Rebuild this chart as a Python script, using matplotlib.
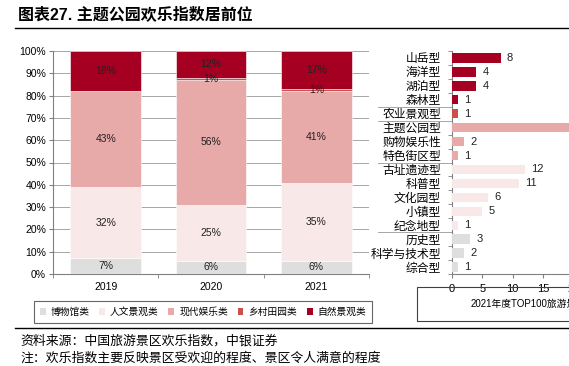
import matplotlib
matplotlib.use("Agg")
import matplotlib.pyplot as plt
import matplotlib.transforms as mtransforms
from matplotlib.patches import Patch, Rectangle
from matplotlib.lines import Line2D
import numpy as np

plt.rcParams['font.family'] = ['Liberation Sans', 'Noto Sans CJK SC']

# ---- data ----
years = ["2019", "2020", "2021"]
series_names = ["博物馆类", "人文景观类", "现代娱乐类", "乡村田园类", "自然景观类"]
museum = [7, 6, 6]
culture = [32, 25, 35]
modern = [43, 56, 41]
rural = [0, 1, 1]
nature = [18, 12, 17]

types = ["山岳型", "海洋型", "湖泊型", "森林型", "农业景观型", "主题公园型", "购物娱乐性",
         "特色街区型", "古址遗迹型", "科普型", "文化园型", "小镇型", "纪念地型",
         "历史型", "科学与技术型", "综合型"]
type_counts = [8, 4, 4, 1, 1, 38, 2, 1, 12, 11, 6, 5, 1, 3, 2, 1]
type_group = [4, 4, 4, 4, 3, 2, 2, 2, 1, 1, 1, 1, 1, 0, 0, 0]
right_xticks = [0, 5, 10, 15, 20]

colors = ["#DEDEDE", "#F9E8E8", "#E8A9A9", "#C9524F", "#A50021"]

W, H = 569, 366
fig = plt.figure(figsize=(W / 100, H / 100), dpi=100)

def fx(px):
    return px / W

def fy(py):
    return 1 - py / H

# ---- title ----
fig.text(fx(18), fy(14), "图表27. 主题公园欢乐指数居前位", fontsize=11.5, fontweight='bold',
         va='center', ha='left')
fig.add_artist(Line2D([fx(15), 1], [fy(28), fy(28)], color='black', lw=1.0))
fig.add_artist(Line2D([fx(15), 1], [fy(328), fy(328)], color='black', lw=1.0))

# ---- left stacked bar chart ----
axL = fig.add_axes([fx(53), fy(274), fx(369) - fx(53), fy(51) - fy(274)])
data = [museum, culture, modern, rural, nature]
x = np.arange(len(years))
bottom = np.zeros(len(years))
for vals, col, name in zip(data, colors, series_names):
    vals = np.array(vals, dtype=float)
    axL.bar(x, vals, 0.67, bottom=bottom, color=col, edgecolor='white', linewidth=0.4,
            label=name, zorder=3)
    for xi, v, b in zip(x, vals, bottom):
        if v > 0:
            axL.text(xi, b + v / 2, f"{int(v)}%", ha='center', va='center', fontsize=7.5,
                     color='#222222', zorder=4)
    bottom += vals

axL.set_xlim(-0.5, 2.5)
axL.set_ylim(0, 100)
axL.set_yticks(np.arange(0, 101, 10))
axL.set_yticklabels([f"{v}%" for v in range(0, 101, 10)], fontsize=7.5)
axL.set_xticks(x)
axL.set_xticklabels(years, fontsize=7.5)
axL.set_xticks([-0.5, 0.5, 1.5, 2.5], minor=True)
axL.tick_params(axis='x', which='major', length=0, pad=6)
axL.tick_params(axis='x', which='minor', length=3, color='#808080')
axL.tick_params(axis='y', length=3, color='#808080', pad=2)
axL.grid(axis='y', color='#A6A6A6', lw=0.7, zorder=0)
for s in ['top', 'right']:
    axL.spines[s].set_visible(False)
for s in ['left', 'bottom']:
    axL.spines[s].set_color('#808080')
    axL.spines[s].set_linewidth(0.8)

handles = [Patch(facecolor=c, edgecolor='none') for c in colors]
leg = fig.legend(handles, series_names, loc='center', bbox_to_anchor=(fx(203), fy(312)),
                 ncol=5, fontsize=7, frameon=True, fancybox=False, edgecolor='#404040',
                 handlelength=0.6, handleheight=0.6, handletextpad=0.5, columnspacing=1.0,
                 borderpad=0.6)
leg.get_frame().set_linewidth(0.8)

# ---- right horizontal bar chart ----
px_per_unit = (543 - 452) / 15
xmax_units = 40
axR_w = px_per_unit * xmax_units
axR = fig.add_axes([fx(452), fy(274), axR_w / W, fy(51) - fy(274)])
y = np.arange(len(types))
axR.barh(y, type_counts, 0.67, color=[colors[g] for g in type_group], zorder=3)
visible_units = (W - 452) / px_per_unit
for yi, v in zip(y, type_counts):
    if v + 2 < visible_units:
        axR.text(v + 1.0, yi, str(v), va='center', ha='left', fontsize=8, color='#222222')
axR.set_ylim(len(types) - 0.5, -0.5)
axR.set_xlim(0, xmax_units)
axR.set_xticks(right_xticks)
axR.set_xticklabels([str(t) for t in right_xticks], fontsize=8)
axR.set_yticks(y)
axR.set_yticklabels(types, fontsize=8.5)
axR.set_yticks(np.arange(-0.5, len(types), 1), minor=True)
axR.tick_params(axis='y', which='major', length=0, pad=8)
axR.tick_params(axis='y', which='minor', length=3, color='#808080')
axR.tick_params(axis='x', length=3, color='#808080', pad=4)
for s in ['top', 'right']:
    axR.spines[s].set_visible(False)
for s in ['left', 'bottom']:
    axR.spines[s].set_color('#808080')
    axR.spines[s].set_linewidth(0.8)

trans = mtransforms.blended_transform_factory(axR.transAxes, axR.transData)
x0 = (378 - 452) / axR_w
for ysep in [3.5, 4.5, 7.5, 12.5]:
    axR.plot([x0, 0], [ysep, ysep], color='#A6A6A6', lw=0.7, transform=trans, clip_on=False)

# box under right chart
fig.add_artist(Rectangle((fx(417), fy(321)), fx(720) - fx(417), fy(287) - fy(321),
                         facecolor='none', edgecolor='#404040', lw=0.8))
fig.text(fx(471), fy(304), "2021年度TOP100旅游景区类型分布", fontsize=7, va='center', ha='left')

# ---- footnotes ----
fig.text(fx(20), fy(341), "资料来源：中国旅游景区欢乐指数，中银证券", fontsize=9.3,
         style='italic', va='center', ha='left')
fig.text(fx(20), fy(358), "注：欢乐指数主要反映景区受欢迎的程度、景区令人满意的程度", fontsize=9.3,
         style='italic', va='center', ha='left')

fig.savefig("out.png", dpi=100)
